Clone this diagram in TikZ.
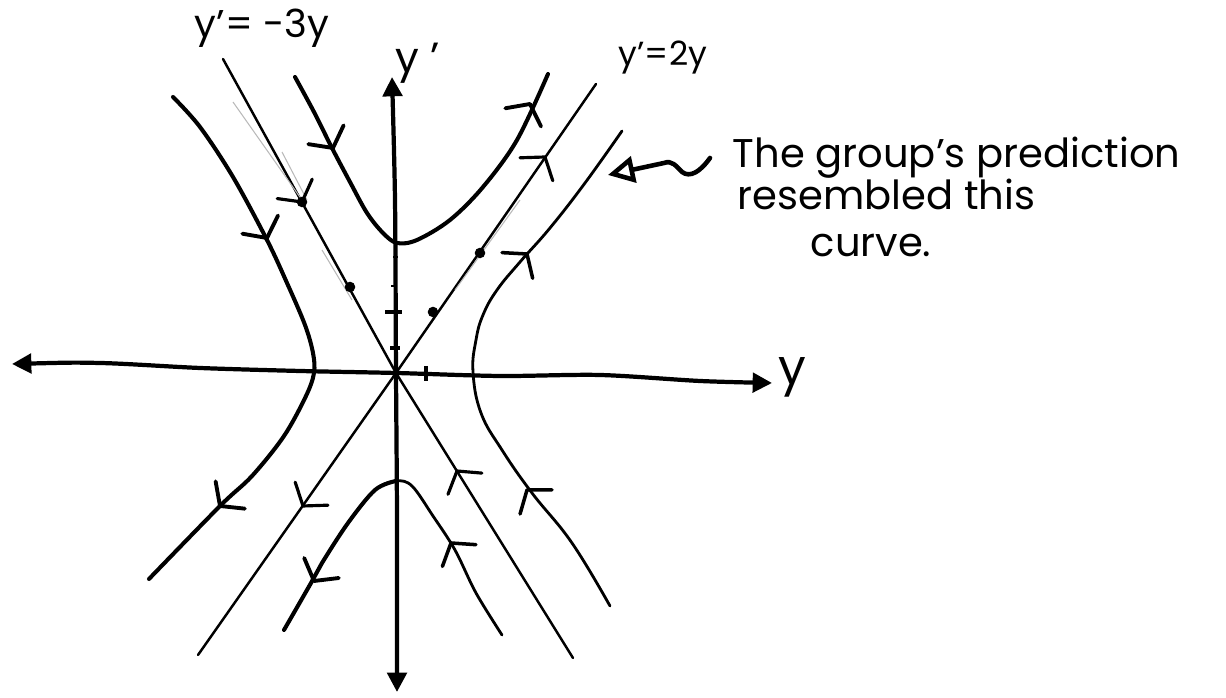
\documentclass[tikz,border=0pt]{standalone}
\usepackage{fontspec}
\setmainfont{Poppins}
\usetikzlibrary{arrows.meta}
\begin{document}
\begin{tikzpicture}[x=0.01cm,y=-0.01cm,
  thickc/.style={line width=1.15pt, line cap=round, line join=round},
  thinc/.style={line width=0.7pt, line cap=round, line join=round},
  faint/.style={line width=0.3pt, gray!55},
  axisl/.style={line width=1.2pt, line cap=round,
    {Triangle[length=5.5pt,width=5.5pt]}-{Triangle[length=5.5pt,width=5.5pt]}},
  dotc/.style={circle, fill=black, inner sep=0pt, minimum size=3pt},
  lbl/.style={inner sep=0pt},
  pics/barb/.style={code={\draw[line cap=round, line join=round] (-15,20) -- (0,0) -- (-15,-20);}}
]
\useasboundingbox (0,0) rectangle (1226,698);

% axes
\coordinate (O) at (396,373);
\coordinate (xl) at (12,364);
\coordinate (xr) at (772,383);
\coordinate (yt) at (392,77);
\coordinate (yb) at (397,692);
\draw[axisl] plot[smooth] coordinates {(xl) (100,363) (200,368) (300,371) (O) (500,376) (600,375) (700,381) (xr)};
\draw[axisl] plot[smooth] coordinates {(yb) (397,520) (O) (395,200) (yt)};
\node[lbl, font=\fontsize{14}{16}\selectfont] (ylab) at (792,377) {y};
\node[lbl, font=\fontsize{12}{14}\selectfont] (yplab) at (418,63) {y '};

% ticks
\draw[line width=1pt] (385,312) -- (402,312);
\draw[line width=1pt] (390,348) -- (400,348);
\draw[line width=0.5pt] (391,286) -- (396,286);
\draw[line width=0.5pt] (393,257) -- (398,257);
\draw[line width=0.9pt] (426,366) -- (426,381);

% eigen-lines
\coordinate (m3t) at (223,59);
\coordinate (m3b) at (573,658);
\coordinate (p2t) at (596,84);
\coordinate (p2b) at (198,655);
\draw[thinc] (m3t) -- (O) -- (m3b);
\draw[thinc] (p2t) -- (O) -- (p2b);
\draw[faint] (233,102) -- (302,200);
\draw[faint] (282,152) -- (307,200);
\draw[faint] (322,250) -- (352,300);
\draw[faint] (520,200) -- (455,290);

% dots
\node[dotc] (d1) at (302,202) {};
\node[dotc] (d2) at (350,287) {};
\node[dotc] (d3) at (480,253) {};
\node[dotc] (d4) at (433,312) {};

% hyperbolas
\draw[thickc] plot[smooth,tension=0.55] coordinates {(295,77) (314,112) (332,148) (350,182) (367,213) (383,233) (397,243) (417,240) (450,220) (483,187) (517,140) (548,74)};
\draw[thickc] plot[smooth,tension=0.55] coordinates {(173,97) (200,127) (233,177) (267,240) (287,283) (305,325) (313,353) (314,373) (306,396) (284,436) (252,476) (220,506) (149,579)};
\draw[thinc, line width=0.8pt] plot[smooth,tension=0.7] coordinates {(622,131) (585,183) (550,228) (520,262) (497,290) (483,315) (476,340) (473,372) (481,413) (502,450) (532,493) (572,543) (610,606)};
\draw[thinc, line width=0.8pt] plot[smooth,tension=0.55] coordinates {(284,630) (311,583) (322,563) (348,523) (375,490) (396,481) (412,486) (433,516) (455,550) (476,593) (502,635)};
\draw[thickc] plot[smooth,tension=0.55] coordinates {(284,630) (311,583) (322,563) (348,523) (375,490) (396,481)};

% direction marks
\pic[rotate=-62, line width=1.1pt] at (333,148) {barb};
\pic[rotate=63, line width=1.1pt] at (530,104) {barb};
\pic[rotate=-63, line width=1.1pt] at (267,238) {barb};
\pic[rotate=-133, line width=1.1pt] at (220,506) {barb};
\pic[rotate=50, line width=1pt] at (527,254) {barb};
\pic[rotate=127, line width=1pt] at (527,490) {barb};
\pic[rotate=-120, line width=1.1pt] at (314,581) {barb};
\pic[rotate=123, line width=1pt] at (451,543) {barb};
\pic[rotate=-61, line width=0.9pt] at (302,202) {barb};
\pic[rotate=122, line width=0.9pt] at (457,471) {barb};
\pic[rotate=55, line width=0.9pt] at (545,157) {barb};
\pic[rotate=-125, line width=0.9pt] at (303,506) {barb};

% labels of lines
\node[lbl, font=\fontsize{11}{13}\selectfont] (m3lab) at (262,28) {y'= -3y};
\node[lbl, font=\fontsize{9.5}{11}\selectfont] (p2lab) at (663,58) {y'=2y};

% annotation
\coordinate (a0) at (710,158);
\coordinate (atip) at (608,175);
\draw[line width=1.3pt, line cap=round, -{Triangle[open,length=7.5pt,width=7.5pt]}]
  (a0) .. controls (700,172) and (690,178) .. (682,172)
  .. controls (676,166) and (672,160) .. (664,163) -- (atip);
\node[lbl, anchor=base west, font=\fontsize{11.4}{13}\selectfont] (t1) at (732,168) {The group's prediction};
\node[lbl, anchor=base west, font=\fontsize{11.4}{13}\selectfont] (t2) at (737,210) {resembled this};
\node[lbl, anchor=base west, font=\fontsize{11.4}{13}\selectfont] (t3) at (810,257) {curve.};
\end{tikzpicture}
\end{document}
